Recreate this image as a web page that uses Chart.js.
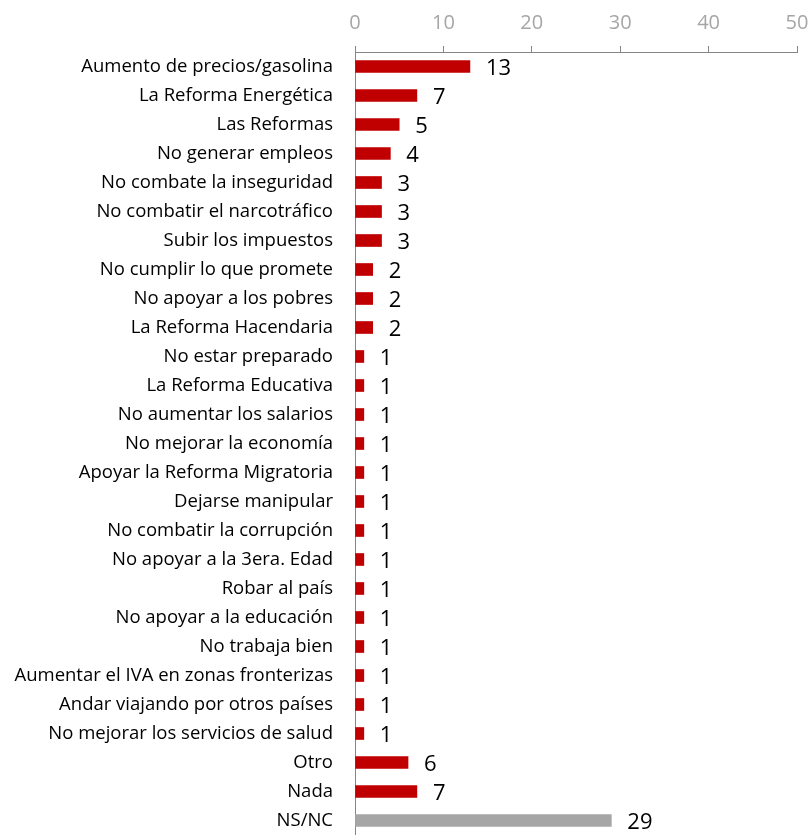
<!DOCTYPE html>
<html>
<head>
<meta charset="utf-8">
<script src="https://cdn.jsdelivr.net/npm/chart.js@4"></script>
<style>
  html, body { margin: 0; padding: 0; background: #fff; }
  #wrap { width: 810px; height: 835px; }
</style>
</head>
<body>
<div id="wrap"><canvas id="chart" width="810" height="835"></canvas></div>
<script>
// categorías y porcentajes
const categories = [
  'Aumento de precios/gasolina',
  'La Reforma Energética',
  'Las Reformas',
  'No generar empleos',
  'No combate la inseguridad',
  'No combatir el narcotráfico',
  'Subir los impuestos',
  'No cumplir lo que promete',
  'No apoyar a los pobres',
  'La Reforma Hacendaria',
  'No estar preparado',
  'La Reforma Educativa',
  'No aumentar los salarios',
  'No mejorar la economía',
  'Apoyar la Reforma Migratoria',
  'Dejarse manipular',
  'No combatir la corrupción',
  'No apoyar a la 3era. Edad',
  'Robar al país',
  'No apoyar a la educación',
  'No trabaja bien',
  'Aumentar el IVA en zonas fronterizas',
  'Andar viajando por otros países',
  'No mejorar los servicios de salud',
  'Otro',
  'Nada',
  'NS/NC'
];
const values = [13, 7, 5, 4, 3, 3, 3, 2, 2, 2, 1, 1, 1, 1, 1, 1, 1, 1, 1, 1, 1, 1, 1, 1, 6, 7, 29];
const xTicks = [0, 10, 20, 30, 40, 50];

const FONT = 'Open Sans';

// etiquetas de valor a la derecha de cada barra
const valueLabels = {
  id: 'valueLabels',
  afterDatasetsDraw(chart) {
    const ctx = chart.ctx;
    const meta = chart.getDatasetMeta(0);
    ctx.save();
    ctx.font = '22px "' + FONT + '"';
    ctx.fillStyle = '#000';
    ctx.textAlign = 'left';
    ctx.textBaseline = 'middle';
    meta.data.forEach((bar, i) => {
      ctx.fillText(String(values[i]), bar.x + 16, bar.y + 2);
    });
    ctx.restore();
  }
};

new Chart(document.getElementById('chart'), {
  type: 'bar',
  data: {
    labels: categories,
    datasets: [{
      data: values,
      backgroundColor: values.map((v, i) => i === values.length - 1 ? '#a6a6a6' : '#c00000'),
      barThickness: 12,
      borderWidth: 0
    }]
  },
  options: {
    indexAxis: 'y',
    responsive: false,
    animation: false,
    layout: { padding: { top: 0, right: 13, bottom: 0, left: 0 } },
    plugins: {
      legend: { display: false },
      tooltip: { enabled: false }
    },
    scales: {
      x: {
        position: 'top',
        min: 0,
        max: 50,
        afterBuildTicks(axis) { axis.ticks = xTicks.map(v => ({ value: v })); },
        afterFit(axis) {
          axis.paddingLeft = 0;
          axis.paddingRight = 0;
        },
        grid: { drawOnChartArea: false, drawTicks: true, tickLength: 6, color: '#868686' },
        border: { display: true, color: '#868686', width: 1 },
        ticks: { color: '#a6a6a6', font: { family: FONT, size: 20 }, padding: 11, maxRotation: 0 }
      },
      y: {
        afterFit(axis) {
          axis.width = 355;
          axis.paddingTop = 0;
          axis.paddingBottom = 0;
        },
        grid: { display: false },
        border: { display: true, color: '#868686', width: 1 },
        ticks: { color: '#000', font: { family: FONT, size: 18.5 }, padding: 14, autoSkip: false }
      }
    }
  },
  plugins: [valueLabels]
});
</script>
</body>
</html>
